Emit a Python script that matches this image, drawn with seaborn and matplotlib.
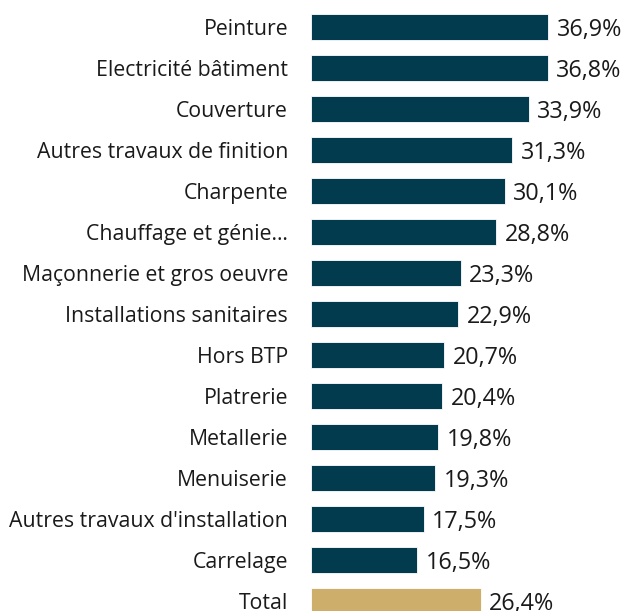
import matplotlib
matplotlib.use("Agg")
import matplotlib.pyplot as plt
import seaborn as sns
import pandas as pd

categories = ["Peinture", "Electricité bâtiment", "Couverture", "Autres travaux de finition",
              "Charpente", "Chauffage et génie…", "Maçonnerie et gros oeuvre",
              "Installations sanitaires", "Hors BTP", "Platrerie", "Metallerie",
              "Menuiserie", "Autres travaux d'installation", "Carrelage", "Total"]
values = [36.9, 36.8, 33.9, 31.3, 30.1, 28.8, 23.3, 22.9, 20.7, 20.4, 19.8, 19.3, 17.5, 16.5, 26.4]
groups = ["secteur"] * 14 + ["total"]

df = pd.DataFrame({"cat": categories, "val": values, "grp": groups})

sns.set_theme(style="white")
plt.rcParams["font.family"] = ["Open Sans", "DejaVu Sans"]

fig = plt.figure(figsize=(6.26, 6.11), dpi=100)
ax = fig.add_axes([311 / 626, 0, 315 / 626, 1])

sns.barplot(data=df, y="cat", x="val", hue="grp", order=categories,
            palette={"secteur": "#023A4E", "total": "#CDAF6B"},
            saturation=1, dodge=False, legend=False, width=0.65, ax=ax,
            edgecolor="white", linewidth=0.6)

for i, v in enumerate(values):
    ax.text(v + 1.3, i + 0.07, f"{v:.1f}%".replace(".", ","), va="center", ha="left",
            fontsize=16.8, color="#1a1a1a")

ax.set_xlim(0, 49)
ax.set_ylim(584 / 41, -27 / 41)
ax.set_xlabel("")
ax.set_ylabel("")
ax.set_xticks([])
ax.tick_params(axis="y", length=0, pad=16.5, labelsize=15.3, labelcolor="#1a1a1a")
for s in ax.spines.values():
    s.set_visible(False)

fig.savefig("out.png", dpi=100)
